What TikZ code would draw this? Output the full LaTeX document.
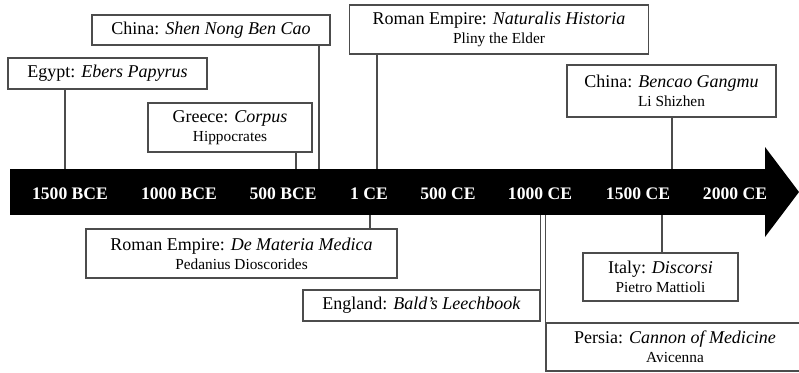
\documentclass[tikz,border=0pt]{standalone}
\usepackage{fontspec}
\setmainfont{Liberation Serif}
\newcommand{\subline}[1]{{\fontsize{11.5}{14.5}\selectfont #1}}

\begin{document}
\begin{tikzpicture}[x=0.75pt, y=-0.75pt,
  every node/.style={font=\fontsize{13.5}{14.5}\selectfont},
  event/.style={draw=black!70, line width=0.8pt, align=center, inner sep=0pt},
  year/.style={text=white, font=\fontsize{13.2}{15}\selectfont\bfseries},
  tick/.style={draw=black!70, line width=0.8pt}]
  \useasboundingbox (0,0) rectangle (799,372);

  % timeline
  \node[fill=black, minimum width=567pt, minimum height=34.5pt, inner sep=0pt] (bar) at (388,192) {};
  \fill (765,147) -- (799,192) -- (765,237) -- cycle;

  \foreach \yr/\x [count=\i] in {1500 BCE/70, 1000 BCE/179, 500 BCE/283, 1 CE/369,
    500 CE/448, 1000 CE/540, 1500 CE/638, 2000 CE/735}
    \node[year] (yr\i) at (\x,193.5) {\yr};

  % above the line
  \node[event, minimum width=149.25pt, minimum height=23.25pt] (egypt) at (107.5,73.5)
  {Egypt: \textit{Ebers Papyrus}};

  \node[event, minimum width=178.5pt, minimum height=22.5pt] (shennong) at (211,30)
  {China: \textit{Shen Nong Ben Cao}};

  \node[event, minimum width=123pt, minimum height=36.75pt] (greece) at (230,127.5)
  {Greece: \textit{Corpus}\\\subline{Hippocrates}};

  \node[event, minimum width=224.25pt, minimum height=36.75pt] (pliny) at (499,29.5)
  {Roman Empire: \textit{Naturalis Historia}\\\subline{Pliny the Elder}};

  \node[event, minimum width=156.75pt, minimum height=39pt] (bencao) at (671.5,91)
  {China: \textit{Bencao Gangmu}\\\subline{Li Shizhen}};

  % below the line
  \node[event, minimum width=233.25pt, minimum height=36.75pt] (materia) at (241.5,253.5)
  {Roman Empire: \textit{De Materia Medica}\\\subline{Pedanius Dioscorides}};

  \node[event, minimum width=177.75pt, minimum height=23.25pt] (england) at (421.5,305.5)
  {England: \textit{Bald’s Leechbook}};

  \node[event, minimum width=116.25pt, minimum height=36pt] (italy) at (660.5,277)
  {Italy: \textit{Discorsi}\\\subline{Pietro Mattioli}};

  \node[event, minimum width=193.5pt, minimum height=36pt] (persia) at (675,347)
  {Persia: \textit{Cannon of Medicine}\\\subline{Avicenna}};

  % ticks
  \draw[tick] (65,0 |- egypt.south) -- (65,0 |- bar.north);
  \draw[tick] (319,0 |- shennong.south) -- (319,0 |- bar.north);
  \draw[tick] (296,0 |- greece.south) -- (296,0 |- bar.north);
  \draw[tick] (377,0 |- pliny.south) -- (377,0 |- bar.north);
  \draw[tick] (672,0 |- bencao.south) -- (672,0 |- bar.north);
  \draw[tick] (370,0 |- materia.north) -- (370,0 |- bar.south);
  \draw[tick] (england.north east) -- (england.north east |- bar.south);
  \draw[tick] (662,0 |- italy.north) -- (662,0 |- bar.south);
  \draw[tick] (persia.north west) -- (persia.north west |- bar.south);
\end{tikzpicture}
\end{document}
